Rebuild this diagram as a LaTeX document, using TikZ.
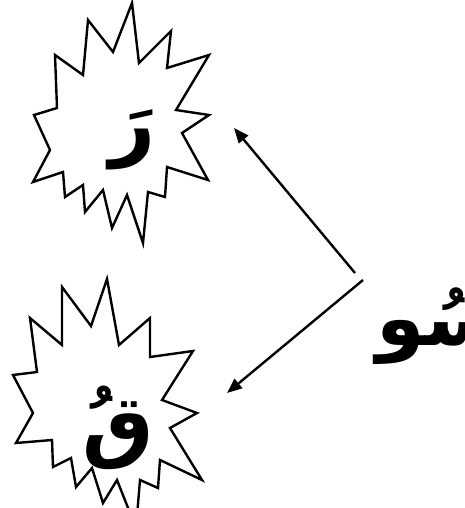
\documentclass[tikz,border=0pt]{standalone}
\usepackage{fontspec}
\newfontfamily\arabicfont[Script=Arabic]{DejaVu Sans}
\TeXXeTstate=1
\usetikzlibrary{arrows.meta}
\begin{document}
\begin{tikzpicture}[x=1pt,y=-1pt,
  star/.style={draw=black, line width=2.4pt, line join=miter},
  conn/.style={draw=black, line width=2.4pt, -{Triangle[length=15pt,width=12pt]}},
  letter/.style={font=\arabicfont\bfseries\fontsize{80}{96}\selectfont, inner sep=0pt},
  word/.style={font=\arabicfont\bfseries\fontsize{78}{94}\selectfont, inner sep=0pt}]
\useasboundingbox (0,0) rectangle (464,508);
\clip (0,0) rectangle (464,508);
\draw[star] (132,3) -- (139,63) -- (171,31) -- (167,68) -- (209,55) -- (176,110) -- (209,115) -- (182,133) -- (208,180) -- (167,167) -- (165,197) -- (148,192) -- (143,243) -- (127,195) -- (112,228) -- (103,190) -- (85,212) -- (83,185) -- (65,197) -- (63,172) -- (33,182) -- (50,150) -- (34,115) -- (57,108) -- (55,55) -- (83,75) -- (88,20) -- (113,52) -- cycle;
\draw[star] (107,279) -- (119,345) -- (150,318) -- (150,357) -- (193,351) -- (162,400) -- (197,413) -- (170,428) -- (202,480) -- (160,460) -- (158,488) -- (140,480) -- (136,528) -- (117,480) -- (103,503) -- (92,468) -- (76,487) -- (71,458) -- (53,467) -- (52,440) -- (16,443) -- (33,413) -- (13,375) -- (37,372) -- (30,318) -- (62,345) -- (62,287) -- (91,326) -- cycle;
\node[letter] (ra) at (133,140) {\beginR رَ\endR};
\node[letter] (qaf) at (118,428) {\beginR قُ\endR};
\node[word, anchor=west] (su) at (376,326) {\beginR سُو\endR};
\coordinate (hubA) at (355,273);
\coordinate (hubB) at (363,280);
\coordinate (tipA) at (234,128);
\coordinate (tipB) at (227,393);
\draw[conn] (hubA) -- (tipA);
\draw[conn] (hubB) -- (tipB);
\end{tikzpicture}
\end{document}
